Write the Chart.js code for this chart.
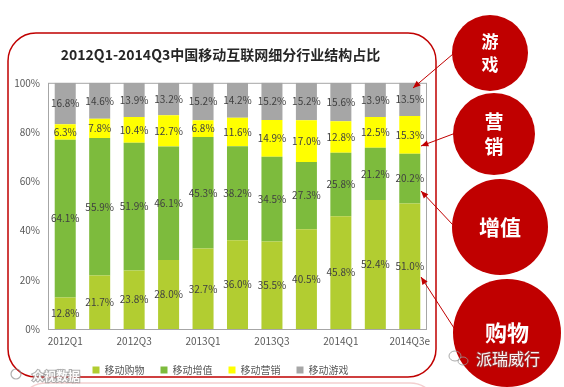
<!DOCTYPE html>
<html>
<head>
<meta charset="utf-8">
<script src="https://cdn.jsdelivr.net/npm/chart.js@4.4.1/dist/chart.umd.min.js"></script>
<style>
  html, body { margin: 0; padding: 0; background: #fff; }
  #c { display: block; }
</style>
</head>
<body>
<canvas id="c" width="564" height="387"></canvas>
<script>
// data (percent of each quarter)
const quarters = ['2012Q1', '2012Q2', '2012Q3', '2012Q4', '2013Q1', '2013Q2',
                  '2013Q3', '2013Q4', '2014Q1', '2014Q2', '2014Q3e'];
const shopping  = [12.8, 21.7, 23.8, 28.0, 32.7, 36.0, 35.5, 40.5, 45.8, 52.4, 51.0];
const valueAdd  = [64.1, 55.9, 51.9, 46.1, 45.3, 38.2, 34.5, 27.3, 25.8, 21.2, 20.2];
const marketing = [6.3, 7.8, 10.4, 12.7, 6.8, 11.6, 14.9, 17.0, 12.8, 12.5, 15.3];
const games     = [16.8, 14.6, 13.9, 13.2, 15.2, 14.2, 15.2, 15.2, 15.6, 13.9, 13.5];
const seriesNames = ['移动购物', '移动增值', '移动营销', '移动游戏'];
const yTicks = [0, 20, 40, 60, 80, 100];

const FONT = '"Noto Sans CJK SC", "Noto Sans", sans-serif';
const RED = '#C00000';

// value labels in the middle of each segment
const segLabels = {
    id: 'segLabels',
    afterDatasetsDraw(chart) {
        const ctx = chart.ctx;
        ctx.save();
        ctx.font = '10px ' + FONT;
        ctx.fillStyle = '#404040';
        ctx.textAlign = 'center';
        ctx.textBaseline = 'middle';
        chart.data.datasets.forEach((ds, i) => {
            chart.getDatasetMeta(i).data.forEach((bar, j) => {
                ctx.fillText(ds.data[j].toFixed(1) + '%', bar.x, (bar.y + bar.base) / 2);
            });
        });
        ctx.restore();
    }
};

function roundRectPath(ctx, x, y, w, h, r) {
    ctx.beginPath();
    ctx.moveTo(x + r, y);
    ctx.lineTo(x + w - r, y);
    ctx.arcTo(x + w, y, x + w, y + r, r);
    ctx.lineTo(x + w, y + h - r);
    ctx.arcTo(x + w, y + h, x + w - r, y + h, r);
    ctx.lineTo(x + r, y + h);
    ctx.arcTo(x, y + h, x, y + h - r, r);
    ctx.lineTo(x, y + r);
    ctx.arcTo(x, y, x + r, y, r);
    ctx.closePath();
}

function arrow(ctx, x1, y1, x2, y2) {
    ctx.beginPath();
    ctx.moveTo(x1, y1);
    ctx.lineTo(x2, y2);
    ctx.stroke();
    const a = Math.atan2(y2 - y1, x2 - x1);
    ctx.beginPath();
    ctx.moveTo(x2, y2);
    ctx.lineTo(x2 - 8 * Math.cos(a - 0.4), y2 - 8 * Math.sin(a - 0.4));
    ctx.lineTo(x2 - 8 * Math.cos(a + 0.4), y2 - 8 * Math.sin(a + 0.4));
    ctx.closePath();
    ctx.fill();
}

// frame, plot border, red callouts and watermarks
const decor = {
    id: 'decor',
    beforeDraw(chart) {
        const ctx = chart.ctx;
        ctx.save();
        ctx.fillStyle = '#fff';
        ctx.fillRect(0, 0, chart.width, chart.height);
        ctx.strokeStyle = RED;
        ctx.lineWidth = 1.5;
        roundRectPath(ctx, 8, 33, 428, 344, 28);
        ctx.stroke();
        // edge of the next frame below
        ctx.strokeStyle = 'rgba(220,120,120,0.35)';
        roundRectPath(ctx, 18, 383, 420, 60, 28);
        ctx.stroke();
        ctx.restore();
    },
    afterDraw(chart) {
        const ctx = chart.ctx;
        const a = chart.chartArea;
        ctx.save();
        ctx.strokeStyle = '#A6A6A6';
        ctx.lineWidth = 1;
        ctx.strokeRect(a.left + 0.5, a.top + 0.5, a.right - a.left - 1, a.bottom - a.top);

        // callout circles
        const circles = [
            { x: 490, y: 53, r: 38, lines: ['游', '戏'], size: 17 },
            { x: 494, y: 134, r: 41, lines: ['营', '销'], size: 19 },
            { x: 500, y: 227, r: 48, lines: ['增值'], size: 21 },
            { x: 507, y: 333, r: 54, lines: ['购物'], size: 22 }
        ];
        circles.forEach(c => {
            ctx.fillStyle = RED;
            ctx.beginPath();
            ctx.arc(c.x, c.y, c.r, 0, Math.PI * 2);
            ctx.fill();
            ctx.fillStyle = '#fff';
            ctx.font = 'bold ' + c.size + 'px ' + FONT;
            ctx.textAlign = 'center';
            ctx.textBaseline = 'middle';
            const lh = c.size * 1.3;
            c.lines.forEach((t, k) => {
                ctx.fillText(t, c.x, c.y + (k - (c.lines.length - 1) / 2) * lh);
            });
        });

        // arrows pointing into the last bar
        ctx.strokeStyle = RED;
        ctx.fillStyle = RED;
        ctx.lineWidth = 1;
        arrow(ctx, 453, 54, 413, 88);
        arrow(ctx, 453, 134, 421, 146);
        arrow(ctx, 453, 225, 421, 191);
        arrow(ctx, 454, 328, 421, 277);

        // watermarks
        ctx.font = '16px ' + FONT;
        ctx.textAlign = 'left';
        ctx.textBaseline = 'middle';
        ctx.lineWidth = 1.5;
        ctx.strokeStyle = 'rgba(120,120,120,0.45)';
        ctx.fillStyle = 'rgba(255,255,255,0.95)';
        ctx.strokeText('派瑞威行', 476, 359);
        ctx.fillText('派瑞威行', 476, 359);
        ctx.strokeStyle = 'rgba(150,150,150,0.8)';
        ctx.lineWidth = 1;
        ctx.beginPath();
        ctx.ellipse(455, 356, 6, 5, 0, 0, Math.PI * 2);
        ctx.stroke();
        ctx.beginPath();
        ctx.ellipse(463, 361, 5, 4, 0, 0, Math.PI * 2);
        ctx.stroke();

        ctx.font = 'bold 12px ' + FONT;
        ctx.lineWidth = 2;
        ctx.strokeStyle = 'rgba(140,140,140,0.7)';
        ctx.fillStyle = 'rgba(255,255,255,0.95)';
        ctx.strokeText('众视数据', 32, 376);
        ctx.fillText('众视数据', 32, 376);
        ctx.beginPath();
        ctx.lineWidth = 1.2;
        ctx.arc(16, 374, 5, 0, Math.PI * 2);
        ctx.stroke();
        ctx.restore();
    }
};

new Chart(document.getElementById('c'), {
    type: 'bar',
    data: {
        labels: quarters,
        datasets: [
            { label: seriesNames[0], data: shopping,  backgroundColor: '#B2CD31' },
            { label: seriesNames[1], data: valueAdd,  backgroundColor: '#7DBB3D' },
            { label: seriesNames[2], data: marketing, backgroundColor: '#FFFF00' },
            { label: seriesNames[3], data: games,     backgroundColor: '#A6A6A6' }
        ]
    },
    options: {
        responsive: false,
        animation: false,
        datasets: { bar: { categoryPercentage: 1, barPercentage: 0.61 } },
        layout: { padding: { left: 14, right: 137, top: 46, bottom: 2 } },
        scales: {
            x: {
                stacked: true,
                grid: { display: false, drawTicks: false },
                border: { display: false },
                afterFit: s => { s.height = 20; },
                ticks: {
                    autoSkip: false,
                    maxRotation: 0,
                    padding: 6,
                    color: '#595959',
                    font: { family: FONT, size: 10 },
                    callback: (v, i) => (i % 2 === 0 ? quarters[i] : '')
                }
            },
            y: {
                stacked: true,
                min: 0,
                max: 100,
                grid: { display: false, drawTicks: false },
                border: { display: false },
                afterFit: s => { s.width = 34; },
                afterBuildTicks: s => { s.ticks = yTicks.map(v => ({ value: v })); },
                ticks: {
                    padding: 8,
                    color: '#595959',
                    font: { family: FONT, size: 10 },
                    callback: v => v + '%'
                }
            }
        },
        plugins: {
            title: {
                display: true,
                text: '2012Q1-2014Q3中国移动互联网细分行业结构占比',
                color: '#262626',
                font: { family: FONT, size: 14, weight: 'bold' },
                padding: { top: 0, bottom: 20 }
            },
            legend: {
                position: 'bottom',
                labels: {
                    boxWidth: 7,
                    boxHeight: 7,
                    padding: 16,
                    color: '#595959',
                    font: { family: FONT, size: 10 }
                }
            },
            tooltip: { enabled: false }
        }
    },
    plugins: [decor, segLabels]
});
</script>
</body>
</html>
